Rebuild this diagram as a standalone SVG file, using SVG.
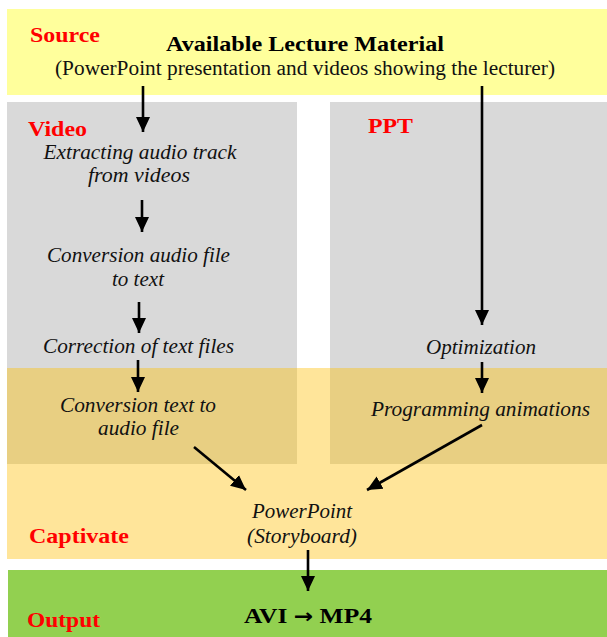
<svg xmlns="http://www.w3.org/2000/svg" width="607" height="637" viewBox="0 0 607 637">
<style>
.lbl{font-family:"Liberation Serif","Times New Roman",serif;font-weight:bold;fill:#FF0000;font-size:22px}
.it{font-family:"Liberation Serif","Times New Roman",serif;font-style:italic;fill:#111;font-size:20px;text-anchor:middle}
.hd{font-family:"Liberation Serif","Times New Roman",serif;font-weight:bold;fill:#000;font-size:22px;text-anchor:middle}
.sub{font-family:"Liberation Serif","Times New Roman",serif;fill:#111;font-size:20px;text-anchor:middle}
.c{stroke:#000;stroke-width:2.6;fill:none;marker-end:url(#ah)}
</style>
<defs>
<marker id="ah" markerUnits="userSpaceOnUse" markerWidth="16" markerHeight="16" refX="15" refY="8" orient="auto">
<path d="M0,1 L15,8 L0,15 Z" fill="#000"/>
</marker>
</defs>
<rect width="607" height="637" fill="#fff"/>
<g id="bands">
<rect x="7" y="9" width="600" height="86" fill="#FFFF9C"/>
<rect x="7" y="368" width="600" height="191" fill="#FFE59A"/>
<rect x="7" y="102" width="290" height="266" fill="#D9D9D9"/>
<rect x="330" y="102" width="277" height="266" fill="#D9D9D9"/>
<rect x="7" y="368" width="290" height="96" fill="#E8CF82"/>
<rect x="330" y="368" width="277" height="96" fill="#E8CF82"/>
<rect x="8" y="570" width="599" height="67" fill="#92D050"/>
</g>
<g id="labels">
<text class="lbl" x="30" y="42" textLength="70" lengthAdjust="spacingAndGlyphs">Source</text>
<text class="lbl" x="28" y="136" textLength="59" lengthAdjust="spacingAndGlyphs">Video</text>
<text class="lbl" x="368" y="133" textLength="45" lengthAdjust="spacingAndGlyphs">PPT</text>
<text class="lbl" x="29" y="543" textLength="100" lengthAdjust="spacingAndGlyphs">Captivate</text>
<text class="lbl" x="27" y="627" textLength="73" lengthAdjust="spacingAndGlyphs">Output</text>
</g>
<g id="source">
<text class="hd" x="305" y="51" textLength="278" lengthAdjust="spacingAndGlyphs">Available Lecture Material</text>
<text class="sub" x="305" y="75" textLength="500" lengthAdjust="spacingAndGlyphs">(PowerPoint presentation and videos showing the lecturer)</text>
</g>
<g id="extract"><text class="it" x="140" y="159" textLength="193" lengthAdjust="spacingAndGlyphs">Extracting audio track</text><text class="it" x="139" y="182" textLength="102" lengthAdjust="spacingAndGlyphs">from videos</text></g>
<g id="convert-audio"><text class="it" x="138.5" y="262" textLength="183" lengthAdjust="spacingAndGlyphs">Conversion audio file</text><text class="it" x="138" y="286" textLength="52" lengthAdjust="spacingAndGlyphs">to text</text></g>
<g id="correction"><text class="it" x="138.5" y="353" textLength="191" lengthAdjust="spacingAndGlyphs">Correction of text files</text></g>
<g id="convert-text"><text class="it" x="138" y="412" textLength="156" lengthAdjust="spacingAndGlyphs">Conversion text to</text><text class="it" x="138.5" y="435" textLength="81" lengthAdjust="spacingAndGlyphs">audio file</text></g>
<g id="optimization"><text class="it" x="481" y="354" textLength="110" lengthAdjust="spacingAndGlyphs">Optimization</text></g>
<g id="animations"><text class="it" x="480.5" y="416" textLength="219" lengthAdjust="spacingAndGlyphs">Programming animations</text></g>
<g id="storyboard"><text class="it" x="302" y="518" textLength="100" lengthAdjust="spacingAndGlyphs">PowerPoint</text><text class="it" x="302" y="543" textLength="110" lengthAdjust="spacingAndGlyphs">(Storyboard)</text></g>
<g id="output"><text class="hd" x="308" y="623" textLength="128" lengthAdjust="spacingAndGlyphs">AVI <tspan font-family="'DejaVu Sans',sans-serif" font-size="20">→</tspan> MP4</text></g>
<g id="connectors">
<line class="c" x1="143" y1="86" x2="143" y2="132"/>
<line class="c" x1="142" y1="200" x2="142" y2="232"/>
<line class="c" x1="139" y1="302" x2="139" y2="333"/>
<line class="c" x1="138" y1="360" x2="138" y2="392"/>
<line class="c" x1="482" y1="86" x2="482" y2="325"/>
<line class="c" x1="482" y1="362" x2="482" y2="393"/>
<line class="c" x1="194" y1="447" x2="246" y2="490"/>
<line class="c" x1="482" y1="425" x2="367" y2="490"/>
<line class="c" x1="308" y1="550" x2="308" y2="591"/>
</g>
</svg>
